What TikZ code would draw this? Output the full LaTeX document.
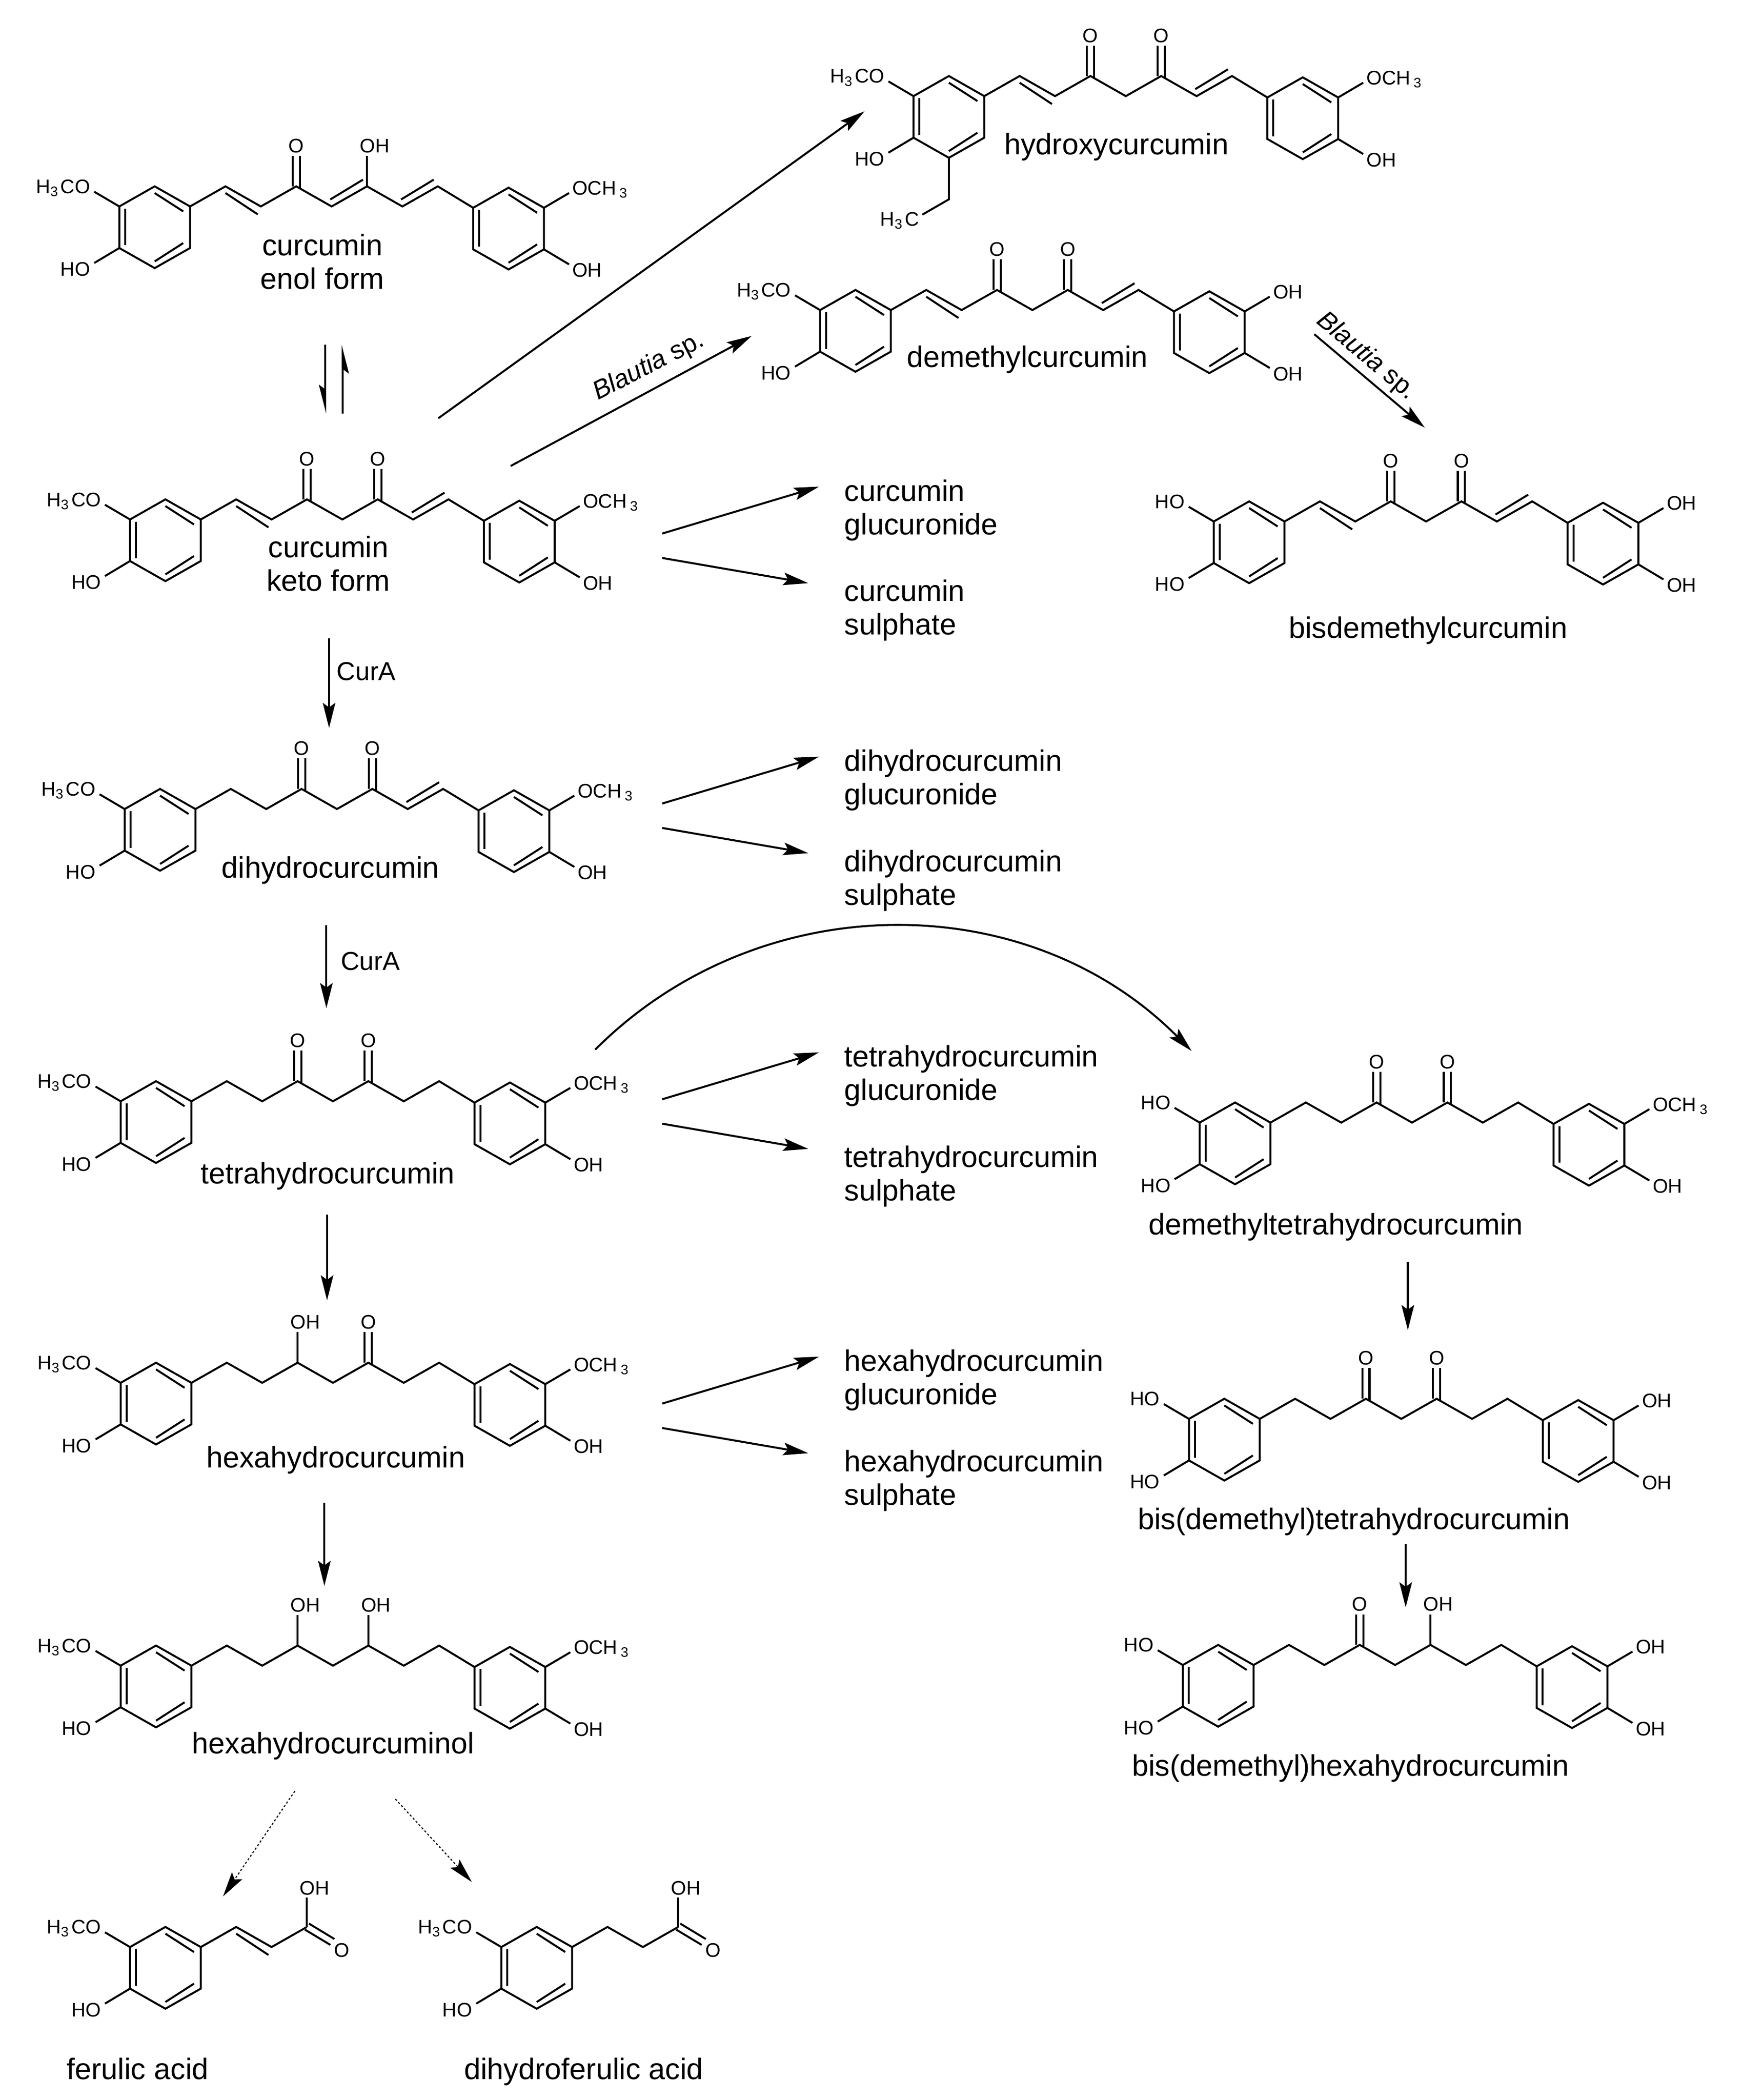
\documentclass[tikz,border=0pt]{standalone}
\usepackage{fontspec}
\setmainfont{Liberation Sans}
\usetikzlibrary{arrows.meta}

\tikzset{
  bond/.style={line width=1.1pt},
  atomlabel/.style={inner sep=0pt,font=\fontsize{11}{13}\selectfont},
  namelabel/.style={inner sep=0pt,align=center,font=\fontsize{16.6}{18.75}\selectfont},
  enzlabel/.style={inner sep=0pt,font=\fontsize{14.5}{17}\selectfont},
  rxn/.style={line width=1.1pt,-{Stealth[length=14pt,width=7pt,inset=2.5pt]}},
  halfrxn/.style={line width=1.1pt,-{Stealth[length=14pt,width=7pt,inset=2.5pt,harpoon,swap]}},
  weakrxn/.style={line width=0.6pt,dash pattern=on 1.2pt off 1.2pt,-{Stealth[length=14pt,width=7pt,inset=2.5pt,line width=0pt]}}
}

% ring, upper left vertex at the origin of the scope
\newcommand{\benzring}{
  \draw[bond] (0,0) -- (0,31) -- (26.4,46) -- (52.8,31) -- (52.8,0) -- (26.4,-15) -- cycle;
  \draw[bond] (4.4,1.6) -- (4.4,29);
  \draw[bond] (26.4,-10) -- (47.7,3.7);
  \draw[bond] (47.7,27.3) -- (26.4,41);
}
% chain between the two rings
\newcommand{\longchain}{
  \draw[bond] (52.8,0) -- (79.2,-15) -- (105.6,0) -- (132,-15) -- (158.4,0) -- (184.8,-15) -- (211.2,0) -- (237.6,-15) -- (264,1);
}
\newcommand{\eneleft}{\draw[bond] (79.2,-10) -- (103.3,5.9);}
\newcommand{\enemid}{\draw[bond] (157.4,-5.2) -- (181.8,-20);}
\newcommand{\eneright}{\draw[bond] (210.2,-5.2) -- (234.6,-20);}
% #1 x of the carbon, #2 node name
\newcommand{\ketone}[2]{
  \draw[bond] (#1-2.7,-15) -- (#1-2.7,-37.8);
  \draw[bond] (#1+2.7,-13.5) -- (#1+2.7,-37.8);
  \node[atomlabel,anchor=base] (#2) at (#1,-40.2) {O};
}
\newcommand{\hydroxyl}[2]{
  \draw[bond] (#1,-15) -- (#1,-37.8);
  \node[atomlabel,anchor=base west] (#2) at (#1-5.5,-40.2) {OH};
}
% ring substituents: #1 node name, #2 text
\newcommand{\subUL}[2]{
  \draw[bond] (0,0) -- (-18.7,-11);
  \node[atomlabel,anchor=base east] (#1) at (-21.5,-9.8) {#2};
}
\newcommand{\subLL}[2]{
  \draw[bond] (0,31) -- (-18.7,42.2);
  \node[atomlabel,anchor=base east] (#1) at (-21.5,52) {#2};
}
\newcommand{\subUR}[2]{
  \draw[bond] (52.8,0) -- (71.5,-11);
  \node[atomlabel,anchor=base west] (#1) at (73.8,-9.5) {#2};
}
\newcommand{\subLR}[2]{
  \draw[bond] (52.8,31) -- (71.5,42.2);
  \node[atomlabel,anchor=base west] (#1) at (73.8,51.6) {#2};
}
\newcommand{\meo}{H\textsubscript{3}\kern1ptCO}
\newcommand{\ome}{OCH\,\textsubscript{3}}
% conjugate pair: #1 prefix, #2 y of the arrows, #3 first word
\newcommand{\productpair}[3]{
  \coordinate (#1GlucStart) at (494,#2);
  \coordinate (#1GlucEnd) at (611,#2-35);
  \coordinate (#1SulfStart) at (494,#2+18.2);
  \coordinate (#1SulfEnd) at (603,#2+37);
  \draw[rxn] (#1GlucStart) -- (#1GlucEnd);
  \draw[rxn] (#1SulfStart) -- (#1SulfEnd);
  \node[namelabel,align=left,anchor=base west] (#1Gluc) at (629.7,#2+0.8) {#3\\glucuronide};
  \node[namelabel,align=left,anchor=base west] (#1Sulf) at (629.7,#2+75.6) {#3\\sulphate};
}

\begin{document}
\begin{tikzpicture}[x=0.75pt,y=0.75pt,yscale=-1,xscale=1]
\path[use as bounding box] (0,0) rectangle (1300,1566.5);

% curcumin enol form
\begin{scope}[shift={(89,154)}]
  \benzring \longchain \eneleft \enemid \eneright
  \ketone{132}{enolO} \hydroxyl{184.8}{enolOH}
  \subUL{enolMeO}{\meo} \subLL{enolHO}{HO}
  \begin{scope}[shift={(264,1)}]
    \benzring \subUR{enolOMe}{\ome} \subLR{enolOHb}{OH}
  \end{scope}
\end{scope}
\node[namelabel,anchor=base] (enolName) at (240.5,215.5) {curcumin\\enol form};

% curcumin keto form
\begin{scope}[shift={(97,387.5)}]
  \benzring \longchain \eneleft \eneright
  \ketone{132}{ketoO} \ketone{184.8}{ketoOb}
  \subUL{ketoMeO}{\meo} \subLL{ketoHO}{HO}
  \begin{scope}[shift={(264,1)}]
    \benzring \subUR{ketoOMe}{\ome} \subLR{ketoOH}{OH}
  \end{scope}
\end{scope}
\node[namelabel,anchor=base] (ketoName) at (245,441) {curcumin\\keto form};

% dihydrocurcumin
\begin{scope}[shift={(93,603.5)}]
  \benzring \longchain \eneright
  \ketone{132}{dihydO} \ketone{184.8}{dihydOb}
  \subUL{dihydMeO}{\meo} \subLL{dihydHO}{HO}
  \begin{scope}[shift={(264,1)}]
    \benzring \subUR{dihydOMe}{\ome} \subLR{dihydOH}{OH}
  \end{scope}
\end{scope}
\node[namelabel,anchor=base] (dihydName) at (246.5,655) {dihydrocurcumin};

% tetrahydrocurcumin
\begin{scope}[shift={(90,821.5)}]
  \benzring \longchain
  \ketone{132}{tetraO} \ketone{184.8}{tetraOb}
  \subUL{tetraMeO}{\meo} \subLL{tetraHO}{HO}
  \begin{scope}[shift={(264,1)}]
    \benzring \subUR{tetraOMe}{\ome} \subLR{tetraOH}{OH}
  \end{scope}
\end{scope}
\node[namelabel,anchor=base] (tetraName) at (244.5,883) {tetrahydrocurcumin};

% hexahydrocurcumin
\begin{scope}[shift={(90,1031.5)}]
  \benzring \longchain
  \hydroxyl{132}{hexaOHa} \ketone{184.8}{hexaO}
  \subUL{hexaMeO}{\meo} \subLL{hexaHO}{HO}
  \begin{scope}[shift={(264,1)}]
    \benzring \subUR{hexaOMe}{\ome} \subLR{hexaOH}{OH}
  \end{scope}
\end{scope}
\node[namelabel,anchor=base] (hexaName) at (250.5,1095) {hexahydrocurcumin};

% hexahydrocurcuminol
\begin{scope}[shift={(90,1242.5)}]
  \benzring \longchain
  \hydroxyl{132}{olOHa} \hydroxyl{184.8}{olOHb}
  \subUL{olMeO}{\meo} \subLL{olHO}{HO}
  \begin{scope}[shift={(264,1)}]
    \benzring \subUR{olOMe}{\ome} \subLR{olOH}{OH}
  \end{scope}
\end{scope}
\node[namelabel,anchor=base] (olName) at (248.5,1308) {hexahydrocurcuminol};

% ferulic acid
\begin{scope}[shift={(97,1452.4)}]
  \benzring
  \draw[bond] (52.8,0) -- (79.2,-15) -- (105.6,0) -- (132,-15);
  \eneleft
  \draw[bond] (132,-15) -- (132,-37);
  \node[atomlabel,anchor=base west] (ferOH) at (126.5,-39) {OH};
  \draw[bond] (130.5,-13) -- (149.5,-1.6);
  \draw[bond] (133.5,-17.5) -- (152.5,-6);
  \node[atomlabel,anchor=base] (ferO) at (158,7.5) {O};
  \subUL{ferMeO}{\meo} \subLL{ferHO}{HO}
\end{scope}
\node[namelabel,anchor=base] (ferName) at (102.7,1551) {ferulic acid};

% dihydroferulic acid
\begin{scope}[shift={(374,1452.4)}]
  \benzring
  \draw[bond] (52.8,0) -- (79.2,-15) -- (105.6,0) -- (132,-15);
  \draw[bond] (132,-15) -- (132,-37);
  \node[atomlabel,anchor=base west] (dferOH) at (126.5,-39) {OH};
  \draw[bond] (130.5,-13) -- (149.5,-1.6);
  \draw[bond] (133.5,-17.5) -- (152.5,-6);
  \node[atomlabel,anchor=base] (dferO) at (158,7.5) {O};
  \subUL{dferMeO}{\meo} \subLL{dferHO}{HO}
\end{scope}
\node[namelabel,anchor=base] (dferName) at (435.5,1551) {dihydroferulic acid};

% hydroxycurcumin
\begin{scope}[shift={(681.5,71.7)}]
  \benzring \longchain \eneleft \eneright
  \ketone{132}{hydrO} \ketone{184.8}{hydrOb}
  \subUL{hydrMeO}{\meo} \subLL{hydrHO}{HO}
  \draw[bond] (26.4,46) -- (26.4,77) -- (6.6,88.4);
  \node[atomlabel,anchor=base east] (hydrEt) at (4.5,97) {H\textsubscript{3}\kern1ptC};
  \begin{scope}[shift={(264,1)}]
    \benzring \subUR{hydrOMe}{\ome} \subLR{hydrOH}{OH}
  \end{scope}
\end{scope}
\node[namelabel,anchor=base] (hydrName) at (833,115.5) {hydroxycurcumin};

% demethylcurcumin
\begin{scope}[shift={(611.8,231.3)}]
  \benzring \longchain \eneleft \eneright
  \ketone{132}{demO} \ketone{184.8}{demOb}
  \subUL{demMeO}{\meo} \subLL{demHO}{HO}
  \begin{scope}[shift={(264,1)}]
    \benzring \subUR{demOHa}{OH} \subLR{demOHb}{OH}
  \end{scope}
\end{scope}
\node[namelabel,anchor=base] (demName) at (766.5,274) {demethylcurcumin};

% bisdemethylcurcumin
\begin{scope}[shift={(905.5,389)}]
  \benzring \longchain \eneleft \eneright
  \ketone{132}{bisO} \ketone{184.8}{bisOb}
  \subUL{bisHOa}{HO} \subLL{bisHOb}{HO}
  \begin{scope}[shift={(264,1)}]
    \benzring \subUR{bisOHa}{OH} \subLR{bisOHb}{OH}
  \end{scope}
\end{scope}
\node[namelabel,anchor=base] (bisName) at (1065.5,476) {bisdemethylcurcumin};

% demethyltetrahydrocurcumin
\begin{scope}[shift={(895,837.4)}]
  \benzring \longchain
  \ketone{132}{dtO} \ketone{184.8}{dtOb}
  \subUL{dtHOa}{HO} \subLL{dtHOb}{HO}
  \begin{scope}[shift={(264,1)}]
    \benzring \subUR{dtOMe}{\ome} \subLR{dtOH}{OH}
  \end{scope}
\end{scope}
\node[namelabel,anchor=base] (dtName) at (996.7,921) {demethyltetrahydrocurcumin};

% bis(demethyl)tetrahydrocurcumin
\begin{scope}[shift={(887,1058.4)}]
  \benzring \longchain
  \ketone{132}{btO} \ketone{184.8}{btOb}
  \subUL{btHOa}{HO} \subLL{btHOb}{HO}
  \begin{scope}[shift={(264,1)}]
    \benzring \subUR{btOHa}{OH} \subLR{btOHb}{OH}
  \end{scope}
\end{scope}
\node[namelabel,anchor=base] (btName) at (1010,1141) {bis(demethyl)tetrahydrocurcumin};

% bis(demethyl)hexahydrocurcumin
\begin{scope}[shift={(882.4,1242)}]
  \benzring \longchain
  \ketone{132}{bhO} \hydroxyl{184.8}{bhOH}
  \subUL{bhHOa}{HO} \subLL{bhHOb}{HO}
  \begin{scope}[shift={(264,1)}]
    \benzring \subUR{bhOHa}{OH} \subLR{bhOHb}{OH}
  \end{scope}
\end{scope}
\node[namelabel,anchor=base] (bhName) at (1007.5,1324.6) {bis(demethyl)hexahydrocurcumin};

% conjugates
\productpair{cur}{398}{curcumin}
\productpair{dih}{599.4}{dihydrocurcumin}
\productpair{tet}{820}{tetrahydrocurcumin}
\productpair{hex}{1047}{hexahydrocurcumin}

% arrow ends
\coordinate (enolDown) at (242.6,257);
\coordinate (ketoUp) at (242.6,308.6);
\coordinate (ketoDown) at (255.6,308.6);
\coordinate (enolUp) at (255.6,257);
\coordinate (hydrStart) at (327,312);
\coordinate (hydrEnd) at (645,83);
\coordinate (demStart) at (381,347.6);
\coordinate (demEnd) at (560.8,250.6);
\coordinate (bisStart) at (980.5,249.3);
\coordinate (bisEnd) at (1063,319);
\coordinate (dihydStart) at (245.5,476);
\coordinate (dihydEnd) at (245.5,543);
\coordinate (tetraStart) at (243.5,690);
\coordinate (tetraEnd) at (243.5,752);
\coordinate (hexaStart) at (244,906);
\coordinate (hexaEnd) at (244,970);
\coordinate (olStart) at (242,1121);
\coordinate (olEnd) at (242,1183);
\coordinate (btStart) at (1050.3,941.4);
\coordinate (btEnd) at (1050.3,992.2);
\coordinate (bhStart) at (1048.7,1151.7);
\coordinate (bhEnd) at (1048.7,1199);
\coordinate (ferStart) at (220,1336);
\coordinate (ferEnd) at (166.4,1414.6);
\coordinate (dferStart) at (295,1342);
\coordinate (dferEnd) at (352,1403.9);
\coordinate (dtStart) at (444,783);
\coordinate (dtEnd) at (889,784);

\draw[halfrxn] (enolDown) -- (ketoUp);
\draw[halfrxn] (ketoDown) -- (enolUp);
\draw[rxn] (hydrStart) -- (hydrEnd);
\draw[rxn] (demStart) -- (demEnd);
\draw[rxn] (bisStart) -- (bisEnd);
\draw[rxn] (dihydStart) -- (dihydEnd);
\draw[rxn] (tetraStart) -- (tetraEnd);
\draw[rxn] (hexaStart) -- (hexaEnd);
\draw[rxn] (olStart) -- (olEnd);
\draw[rxn] (btStart) -- (btEnd);
\draw[rxn] (bhStart) -- (bhEnd);
\draw[weakrxn] (ferStart) -- (ferEnd);
\draw[weakrxn] (dferStart) -- (dferEnd);
\draw[rxn] (dtStart) .. controls (566.5,660.5) and (766.5,660.5) .. (dtEnd);

% arrow labels
\node[enzlabel,rotate=27.2,anchor=base] (blautiaA) at (486.3,278) {\textit{Blautia} sp.};
\node[enzlabel,rotate=-40,anchor=base] (blautiaB) at (1016,269.6) {\textit{Blautia} sp.};
\node[enzlabel,anchor=west] (curA) at (251,501) {CurA};
\node[enzlabel,anchor=west] (curB) at (254,717) {CurA};

\end{tikzpicture}
\end{document}
